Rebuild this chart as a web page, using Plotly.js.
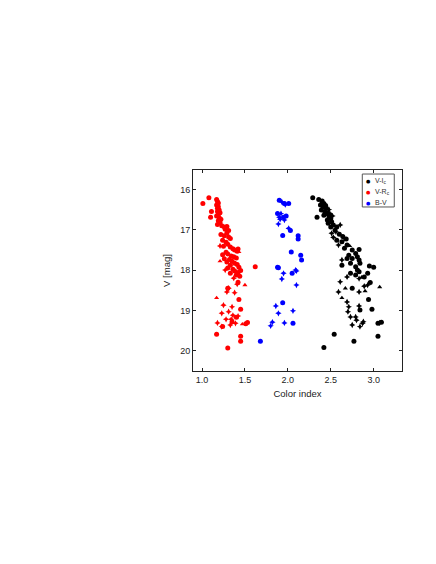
<!DOCTYPE html>
<html>
<head>
<meta charset="utf-8">
<script src="https://cdn.plot.ly/plotly-3.0.1.min.js"></script>
<style>
  html, body { margin: 0; padding: 0; background: #fff; }
  #cmd { width: 436px; height: 564px; }
</style>
</head>
<body>
<div id="cmd"></div>
<script>
// V-Ic series (black)
var viCircX = [2.29, 2.36, 2.40, 2.42, 2.38, 2.41, 2.39, 2.43, 2.45, 2.42, 2.34, 2.48, 2.46, 2.50, 2.51, 2.47, 2.53, 2.50, 2.57, 2.55, 2.60, 2.64, 2.68, 2.57, 2.63, 2.69, 2.66, 2.75, 2.83, 2.79, 2.71, 2.81, 2.75, 2.69, 2.83, 2.73, 2.84, 2.63, 2.79, 2.95, 3.00, 2.81, 2.83, 2.73, 2.79, 2.93, 2.89, 2.75, 2.96, 2.94, 2.98, 2.84, 2.54, 3.05, 2.77, 2.42, 3.05, 3.09, 2.45, 2.49, 2.44];
var viCircY = [16.21, 16.25, 16.29, 16.35, 16.39, 16.43, 16.51, 16.55, 16.60, 16.64, 16.69, 16.68, 16.76, 16.72, 16.80, 16.84, 16.88, 16.93, 16.93, 17.01, 17.11, 17.17, 17.23, 17.26, 17.30, 17.38, 17.46, 17.50, 17.49, 17.59, 17.63, 17.67, 17.71, 17.71, 17.75, 17.83, 17.83, 17.88, 17.92, 17.90, 17.93, 18.00, 18.04, 18.08, 18.12, 18.08, 18.17, 18.45, 18.31, 18.73, 18.97, 18.99, 19.59, 19.64, 19.76, 19.92, 19.32, 19.29, 16.47, 16.62, 16.40];
var viStarX = [2.40, 2.47, 2.52, 2.61, 2.51, 2.53, 2.59, 2.63, 2.69, 2.83, 2.61, 2.93, 2.89, 2.59, 2.83, 2.69, 2.71, 2.70, 2.83, 2.73, 2.79, 2.80, 2.87, 2.75, 2.84, 2.88, 3.07, 2.56, 2.66, 2.48];
var viStarY = [16.33, 16.56, 16.66, 16.88, 17.09, 17.19, 17.38, 17.75, 18.17, 18.21, 18.29, 18.37, 18.40, 18.54, 18.54, 18.79, 18.91, 19.03, 18.89, 19.16, 19.16, 19.24, 19.32, 19.36, 19.40, 19.28, 19.31, 17.05, 17.22, 16.50];
var viTriX = [3.07, 2.67, 2.86, 2.63, 2.72, 2.90];
var viTriY = [18.42, 18.45, 18.18, 18.69, 17.40, 18.52];

// V-Rc series (red)
var vrCircX = [1.08, 1.01, 1.11, 1.10, 1.17, 1.18, 1.19, 1.17, 1.19, 1.18, 1.20, 1.18, 1.21, 1.19, 1.17, 1.20, 1.22, 1.19, 1.21, 1.18, 1.23, 1.26, 1.29, 1.27, 1.31, 1.29, 1.22, 1.26, 1.31, 1.33, 1.24, 1.28, 1.30, 1.25, 1.33, 1.36, 1.38, 1.42, 1.41, 1.28, 1.24, 1.30, 1.34, 1.37, 1.40, 1.26, 1.32, 1.29, 1.35, 1.38, 1.41, 1.33, 1.30, 1.36, 1.43, 1.38, 1.42, 1.45, 1.33, 1.40, 1.44, 1.62, 1.42, 1.30, 1.43, 1.45, 1.17, 1.45, 1.45, 1.30, 1.53, 1.51, 1.40, 1.24, 1.35];
var vrCircY = [16.21, 16.35, 16.55, 16.69, 16.25, 16.30, 16.34, 16.39, 16.43, 16.47, 16.51, 16.55, 16.58, 16.62, 16.66, 16.70, 16.74, 16.78, 16.82, 16.87, 16.90, 16.93, 16.92, 16.99, 17.02, 17.08, 17.12, 17.15, 17.18, 17.22, 17.26, 17.31, 17.36, 17.41, 17.43, 17.47, 17.50, 17.48, 17.53, 17.56, 17.62, 17.60, 17.65, 17.67, 17.70, 17.72, 17.74, 17.80, 17.78, 17.83, 17.86, 17.88, 17.95, 17.98, 17.93, 18.02, 18.06, 18.01, 18.08, 18.12, 18.15, 17.92, 18.30, 18.45, 18.73, 18.97, 19.59, 19.64, 19.76, 19.93, 19.30, 19.33, 19.17, 19.40, 19.28];
var vrStarX = [1.31, 1.41, 1.38, 1.29, 1.25, 1.35, 1.31, 1.23, 1.36, 1.42, 1.28, 1.34, 1.39, 1.18, 1.23, 1.33, 1.37, 1.27, 1.21];
var vrStarY = [18.45, 18.35, 18.56, 18.54, 18.87, 18.91, 19.03, 19.07, 19.12, 19.14, 19.22, 19.22, 19.32, 19.31, 19.40, 19.36, 18.20, 18.00, 17.40];
var vrTriX = [1.17, 1.50, 1.47, 1.43, 1.21];
var vrTriY = [18.69, 18.37, 19.34, 17.55, 17.78];

// B-V series (blue)
var bvCircX = [1.90, 2.01, 1.88, 1.95, 1.98, 2.03, 1.94, 2.12, 2.12, 2.04, 2.15, 2.16, 1.88, 1.89, 2.05, 1.94, 2.06, 1.68, 1.96];
var bvCircY = [16.27, 16.35, 16.60, 16.69, 16.66, 17.02, 17.14, 17.15, 17.23, 17.55, 17.63, 17.75, 17.93, 17.94, 18.08, 18.81, 19.32, 19.76, 16.35];
var bvStarX = [1.93, 1.92, 1.90, 1.96, 1.89, 1.91, 2.01, 1.95, 2.09, 2.10, 1.93, 2.10, 1.86, 1.89, 2.06, 1.80, 1.82, 1.96, 1.97];
var bvStarY = [16.31, 16.60, 16.69, 16.76, 16.86, 16.74, 16.97, 18.08, 18.00, 18.02, 18.22, 18.37, 18.89, 19.07, 19.01, 19.38, 19.29, 19.31, 16.38];

var seriesNames = ['V-I<sub>c</sub>', 'V-R<sub>c</sub>', 'B-V'];
var seriesColors = ['#000000', '#ff0000', '#0000ff'];

function pts(x, y, color, symbol, size) {
  return {
    x: x, y: y, type: 'scatter', mode: 'markers', showlegend: false,
    hoverinfo: 'x+y',
    marker: { color: color, symbol: symbol, size: size, line: { width: 0 } }
  };
}

var data = [
  pts(viCircX, viCircY, seriesColors[0], 'circle', 5),
  pts(viStarX, viStarY, seriesColors[0], 'star-diamond', 4.5),
  pts(viTriX, viTriY, seriesColors[0], 'triangle-up', 4.5),
  pts(vrCircX, vrCircY, seriesColors[1], 'circle', 5),
  pts(vrStarX, vrStarY, seriesColors[1], 'star-diamond', 4.5),
  pts(vrTriX, vrTriY, seriesColors[1], 'triangle-up', 4.5),
  pts(bvCircX, bvCircY, seriesColors[2], 'circle', 5),
  pts(bvStarX, bvStarY, seriesColors[2], 'star-diamond', 4.5)
];

// small hand-made legend box (plotly legend rows are too tall at this size)
var legRowY = [0.947, 0.889, 0.837];
var annotations = [];
for (var i = 0; i < seriesNames.length; i++) {
  annotations.push({
    xref: 'paper', yref: 'paper', x: 0.84, y: legRowY[i], showarrow: false,
    xanchor: 'center', yanchor: 'middle', text: '●',
    font: { family: 'DejaVu Sans', size: 5, color: seriesColors[i] }
  });
  annotations.push({
    xref: 'paper', yref: 'paper', x: 0.862, y: legRowY[i], showarrow: false,
    xanchor: 'left', yanchor: 'middle', text: seriesNames[i],
    font: { family: 'Liberation Sans, Arial, sans-serif', size: 7, color: '#333' }
  });
}

var axisBase = {
  showgrid: false, zeroline: false, showline: true, mirror: 'ticks',
  linecolor: '#222', linewidth: 1,
  ticks: 'inside', ticklen: 3, tickwidth: 1, tickcolor: '#222',
  tickfont: { family: 'Liberation Sans, Arial, sans-serif', size: 9, color: '#222' }
};

var layout = {
  width: 436, height: 564,
  margin: { l: 193, r: 34, t: 170, b: 193 },
  paper_bgcolor: '#fff', plot_bgcolor: '#fff',
  showlegend: false,
  xaxis: Object.assign({}, axisBase, {
    range: [0.895, 3.33], tickvals: [1.0, 1.5, 2.0, 2.5, 3.0],
    ticktext: ['1.0', '1.5', '2.0', '2.5', '3.0'],
    title: { text: 'Color index', standoff: 6,
      font: { family: 'Liberation Sans, Arial, sans-serif', size: 9.5, color: '#222' } }
  }),
  yaxis: Object.assign({}, axisBase, {
    range: [20.5, 15.52], tickvals: [16, 17, 18, 19, 20],
    title: { text: 'V [mag]', standoff: 7,
      font: { family: 'Liberation Sans, Arial, sans-serif', size: 9.5, color: '#222' } }
  }),
  shapes: [{
    type: 'rect', xref: 'paper', yref: 'paper',
    x0: 0.81, x1: 0.963, y0: 0.816, y1: 0.98,
    line: { color: '#555', width: 1 }, fillcolor: 'rgba(0,0,0,0)'
  }],
  annotations: annotations
};

Plotly.newPlot('cmd', data, layout, { displayModeBar: false, responsive: false });
</script>
</body>
</html>
